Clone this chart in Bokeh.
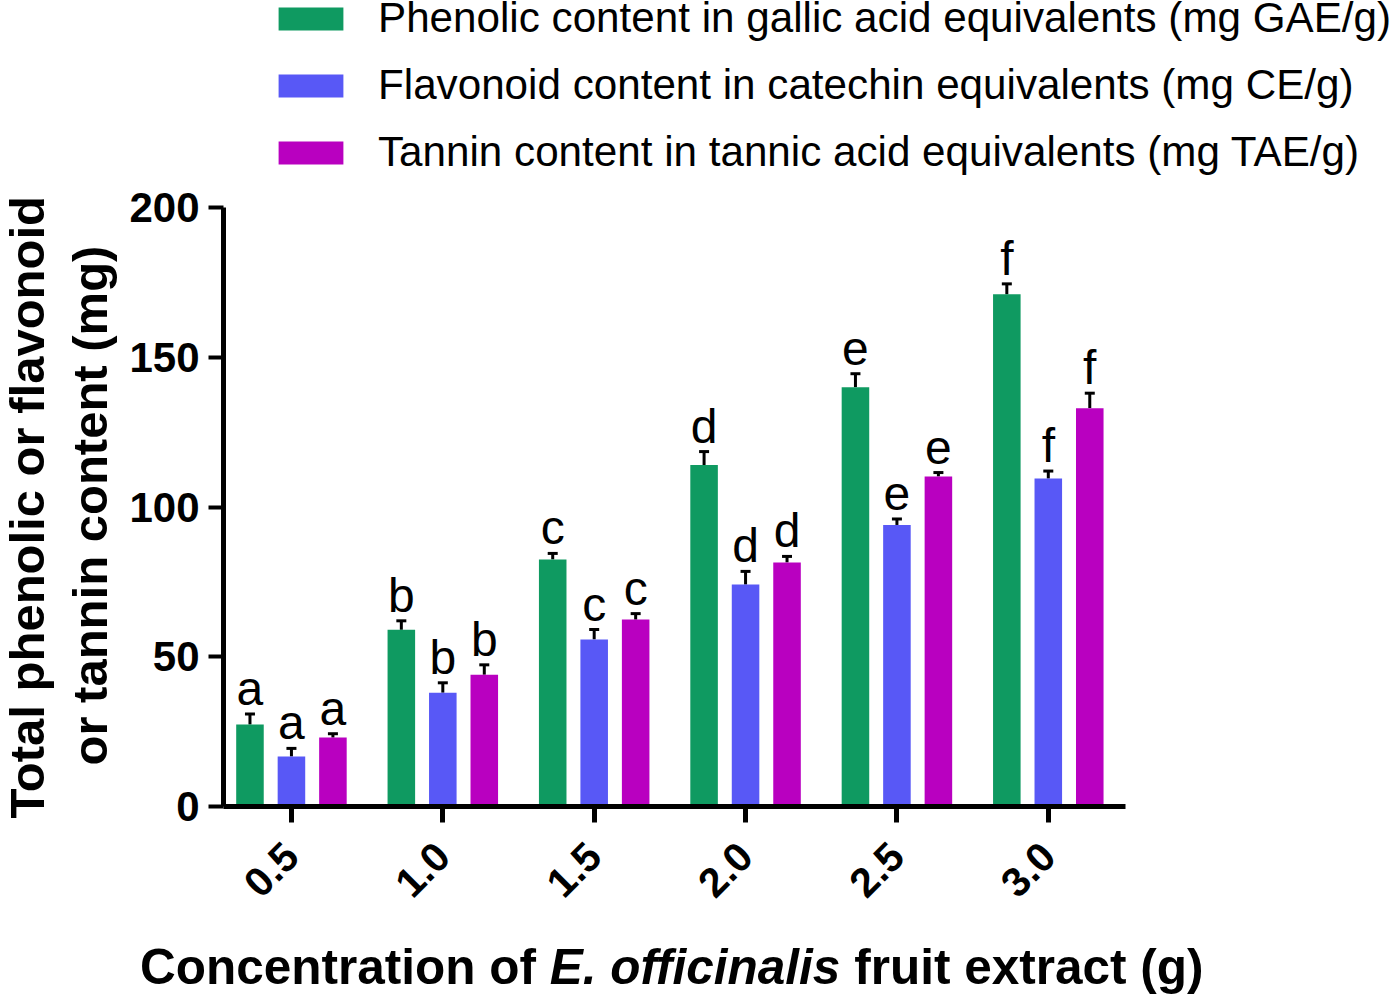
import math
from bokeh.plotting import figure
from bokeh.layouts import column
from bokeh.models import (Range1d, FixedTicker, NumeralTickFormatter, Whisker, ColumnDataSource,
                          Legend, LegendItem, TeeHead, Div, Title)
from bokeh.embed import file_html
from bokeh.resources import INLINE
from bokeh.core.properties import value

# ---------------- data ----------------
concentrations = [0.5, 1.0, 1.5, 2.0, 2.5, 3.0]
letters = ["a", "b", "c", "d", "e", "f"]

phenolic = [27.4, 59.0, 82.5, 114.0, 140.0, 171.0]
phenolic_err = [3.5, 3.0, 2.0, 4.5, 4.5, 3.5]
flavonoid = [16.7, 38.0, 55.8, 74.1, 94.0, 109.5]
flavonoid_err = [2.7, 3.3, 3.3, 4.4, 2.0, 2.5]
tannin = [23.0, 44.0, 62.4, 81.5, 110.2, 133.0]
tannin_err = [1.3, 3.3, 2.0, 2.0, 1.3, 5.0]

series_names = [
    "Phenolic content in gallic acid equivalents (mg GAE/g)",
    "Flavonoid content in catechin equivalents (mg CE/g)",
    "Tannin content in tannic acid equivalents (mg TAE/g)",
]
series_values = [phenolic, flavonoid, tannin]
series_errors = [phenolic_err, flavonoid_err, tannin_err]
series_colors = ["#0f9a61", "#5858f6", "#b900c0"]

y_ticks = [0, 50, 100, 150, 200]
y_title_lines = ["Total phenolic or flavonoid", "or tannin content (mg)"]
x_title_html = "Concentration of <i>E. officinalis</i> fruit extract (g)"

# ---------------- layout ----------------
W = 1398
FIG_H = 935
DIV_H = 61
FRAME_LEFT = 222
FRAME_BOTTOM = 806
PX_X = 303.0        # pixels per x unit
PX_Y = 2.995        # pixels per y unit
x_start = 0.5 - (290 - FRAME_LEFT) / PX_X
x_end = x_start + (W - FRAME_LEFT) / PX_X
y_end = FRAME_BOTTOM / PX_Y

FONT = "Liberation Sans"

p = figure(width=W, height=FIG_H, output_backend="svg", toolbar_location=None,
           x_range=Range1d(x_start, x_end), y_range=Range1d(0, y_end),
           min_border_left=FRAME_LEFT, min_border_right=0, min_border_top=0,
           min_border_bottom=FIG_H - FRAME_BOTTOM)
p.outline_line_color = None
p.xgrid.visible = False
p.ygrid.visible = False
p.background_fill_color = "white"
p.border_fill_color = "white"

offsets = [-0.137, 0.0, 0.137]
bar_w = 0.091
letter_gap = 8.5   # data units between error-bar top and letter anchor (middle)

items = []
for name, vals, errs, col, off in zip(series_names, series_values, series_errors, series_colors, offsets):
    src = ColumnDataSource(dict(
        x=[c + off for c in concentrations],
        top=vals,
        upper=[v + e for v, e in zip(vals, errs)],
        lab_y=[v + e + letter_gap for v, e in zip(vals, errs)],
        letter=letters,
    ))
    r = p.vbar(x="x", top="top", width=bar_w, bottom=0, source=src,
               fill_color=col, line_color=None)
    w = Whisker(source=src, base="x", lower="top", upper="upper", dimension="height",
                line_width=3, line_color="black",
                upper_head=TeeHead(size=10, line_width=3, line_color="black"),
                lower_head=None)
    p.add_layout(w)
    p.text(x="x", y="lab_y", text="letter", source=src, text_align="center",
           text_baseline="middle", text_font_size="48px", text_font=value(FONT),
           text_color="black")
    items.append(LegendItem(label=name, renderers=[r]))

legend = Legend(items=items, location=(47, 630), orientation="vertical",
                label_text_font_size="42.2px", label_text_font=FONT, label_text_color="black",
                glyph_width=81, glyph_height=29, label_standoff=27, spacing=19,
                padding=0, margin=0, border_line_color=None, background_fill_alpha=0)
p.add_layout(legend)

# axes
xa = p.xaxis[0]
xa.ticker = FixedTicker(ticks=concentrations)
xa.formatter = NumeralTickFormatter(format="0.0")
xa.bounds = (x_start, 3.0 + 77 / PX_X)
xa.axis_line_width = 5
xa.major_tick_line_width = 5
xa.major_tick_out = 16
xa.major_tick_in = 0
xa.minor_tick_line_color = None
xa.major_label_orientation = math.pi / 4
xa.major_label_text_font_size = "41px"
xa.major_label_text_font_style = "bold"
xa.major_label_text_font = FONT
xa.major_label_text_color = "black"
xa.major_label_standoff = 27

ya = p.yaxis[0]
ya.ticker = FixedTicker(ticks=y_ticks)
ya.bounds = (0, 200)
ya.axis_line_width = 5
ya.major_tick_line_width = 4
ya.major_tick_out = 15
ya.major_tick_in = 0
ya.minor_tick_line_color = None
ya.major_label_text_font_size = "42px"
ya.major_label_text_font_style = "bold"
ya.major_label_text_font = FONT
ya.major_label_text_color = "black"
ya.major_label_standoff = 9

# y-axis title: two left-side titles (inner line first); offsets measured from the frame bottom
for txt, so, off in [(y_title_lines[1], 20, 41), (y_title_lines[0], -6, -12)]:
    t = Title(text=txt, align="left", offset=off, standoff=so,
              text_font=FONT, text_font_size="49px", text_font_style="bold",
              text_color="black")
    p.add_layout(t, "left")

div = Div(
    text=('<div style="font-family:\'Liberation Sans\';font-size:49.5px;font-weight:bold;'
          'line-height:49px;padding-left:140px;padding-top:7px;white-space:nowrap;color:black">'
          + x_title_html + '</div>'),
    width=W, height=DIV_H, margin=0)

layout = column(p, div, spacing=0)
open("out.html", "w").write(file_html(layout, INLINE))
